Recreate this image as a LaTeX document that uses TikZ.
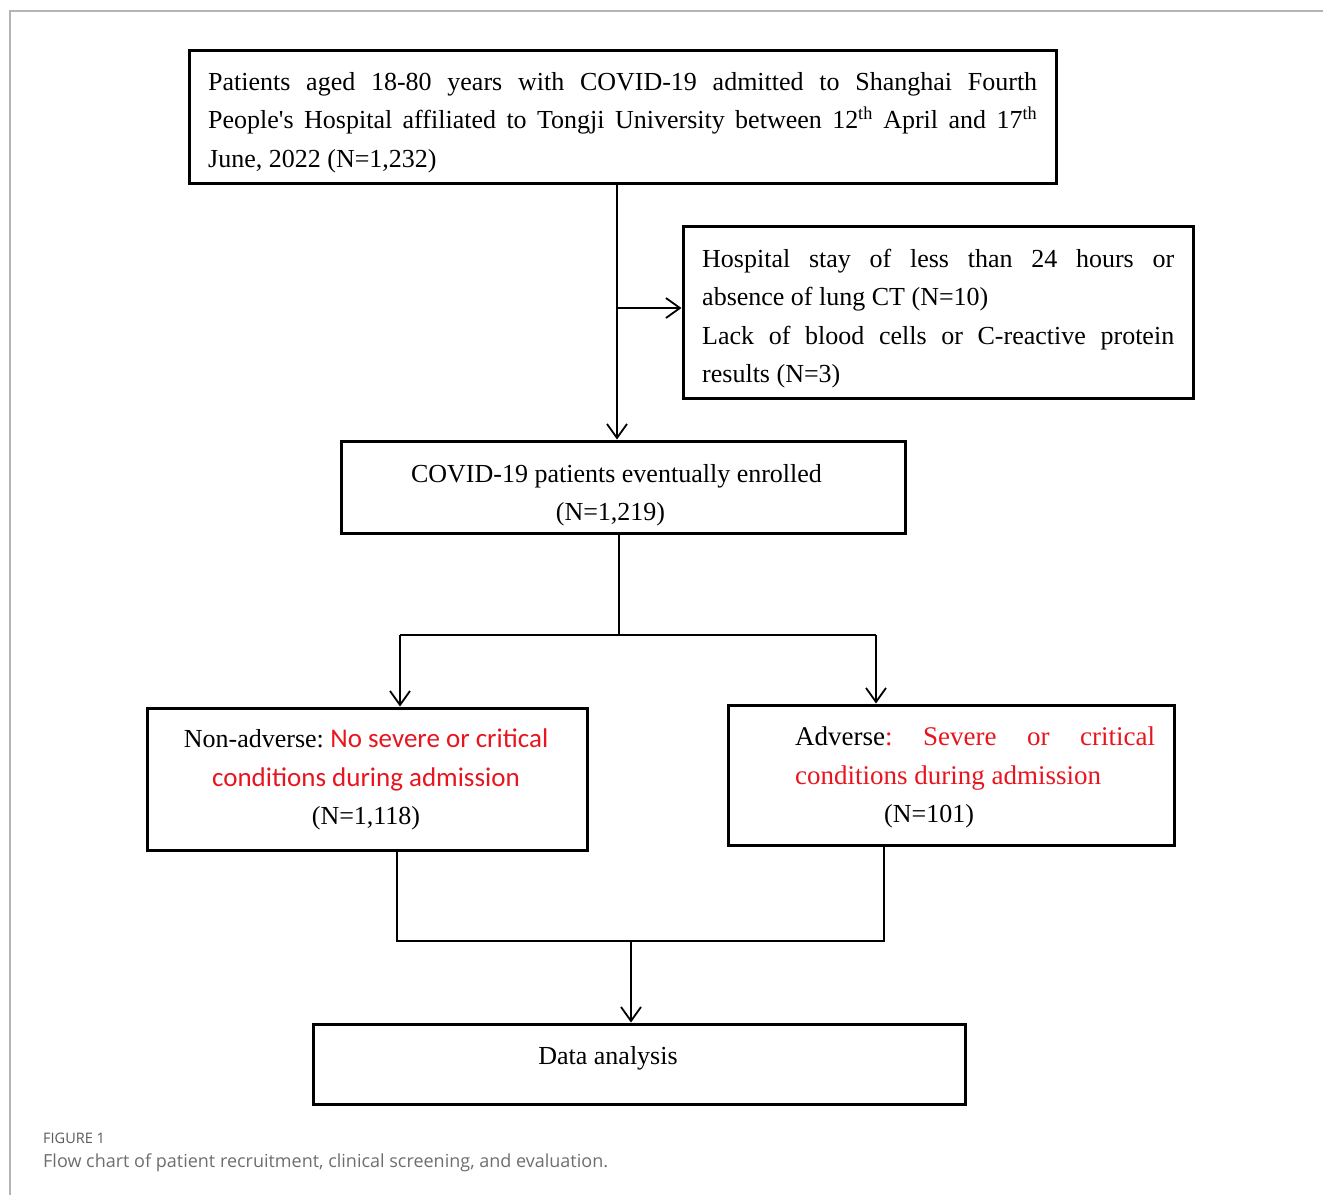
\documentclass[tikz,border=0pt]{standalone}
\usepackage{fontspec}
\setmainfont{Liberation Serif}
\newfontfamily\calib{Carlito}
\newfontfamily\capfont{Open Sans}
\usetikzlibrary{arrows.meta}
\definecolor{frame}{HTML}{B4B4B4}
\definecolor{capgray}{HTML}{6E6E6E}
\definecolor{capdark}{HTML}{5A5A5A}
\definecolor{redtxt}{HTML}{E8141E}
\tikzset{
  box/.style={draw=black, line width=3pt, inner sep=0pt},
  conn/.style={draw=black, line width=1.8pt},
  arr/.style={conn, -{Straight Barb[length=14pt,width=20pt,line width=1.8pt]}},
  txt/.style={inner sep=0pt, font=\frenchspacing\fontsize{26}{38.5}\selectfont},
  bigtxt/.style={inner sep=0pt, font=\frenchspacing\fontsize{27}{38.5}\selectfont},
  rtxt/.style={inner sep=0pt, text=redtxt, font=\fontsize{27}{38.5}\selectfont\calib},
}
\begin{document}
\begin{tikzpicture}[x=1pt, y=-1pt]
\useasboundingbox (0,0) rectangle (1323,1195);
% outer frame (top and left)
\draw[frame, line width=1.5pt] (1323,11) -- (10,11) -- (10,1195);

% boxes
\node[box, minimum width=867pt, minimum height=133pt] (top) at (622.5,116.5) {};
\node[box, minimum width=510pt, minimum height=172pt] (excl) at (938,312) {};
\node[box, minimum width=564pt, minimum height=92pt] (enr) at (623,487) {};
\node[box, minimum width=440pt, minimum height=142pt] (non) at (367,779) {};
\node[box, minimum width=446pt, minimum height=140pt] (adv) at (951,775) {};
\node[box, minimum width=652pt, minimum height=80pt] (data) at (639,1064) {};

% texts: top box
\node[txt, anchor=base west] (t1) at (208,90) {\makebox[829pt][s]{Patients aged 18-80 years with COVID-19 admitted to Shanghai Fourth}};
\node[txt, anchor=base west] (t2) at (208,128.5) {\makebox[829pt][s]{People\textquotesingle s Hospital affiliated to Tongji University between 12\textsuperscript{th} April and 17\textsuperscript{th}}};
\node[txt, anchor=base west] (t3) at (208,167) {June, 2022 (N=1,232)};

% exclusion box
\node[txt, anchor=base west] (e1) at (702,267) {\makebox[472pt][s]{Hospital stay of less than 24 hours or}};
\node[txt, anchor=base west] (e2) at (702,305.5) {absence of lung CT (N=10)};
\node[txt, anchor=base west] (e3) at (702,344) {\makebox[472pt][s]{Lack of blood cells or C-reactive protein}};
\node[txt, anchor=base west] (e4) at (702,382.5) {results (N=3)};

% enrolled
\node[txt, anchor=base] (n1) at (616.5,482) {COVID-19 patients eventually enrolled};
\node[txt, anchor=base] (n2) at (610.5,520) {(N=1,219)};

% non-adverse
\node[txt, anchor=base] (a1) at (366,747) {Non-adverse: {\calib\fontsize{27}{38.5}\selectfont\color{redtxt}No severe or critical}};
\node[rtxt, anchor=base] (a2) at (366,786) {conditions during admission};
\node[txt, anchor=base] (a3) at (366,824) {(N=1,118)};

% adverse
\node[bigtxt, anchor=base west] (b1) at (795,745) {\makebox[360pt][s]{Adverse\textcolor{redtxt}{: Severe or critical}}};
\node[bigtxt, anchor=base west, text=redtxt] (b2) at (795,784) {conditions during admission};
\node[txt, anchor=base west] (b3) at (884,822) {(N=101)};

% data analysis
\node[txt, anchor=base] (d1) at (608,1064) {Data analysis};

% caption
\node[inner sep=0pt, anchor=base west, text=capdark, font=\fontsize{14.5}{16}\capfont] (cap1) at (43,1143) {FIGURE 1};
\node[inner sep=0pt, anchor=base west, text=capgray, font=\fontsize{18}{20}\capfont] (cap2) at (43,1167) {Flow chart of patient recruitment, clinical screening, and evaluation.};

% junction coordinates
\coordinate (j1) at (617,308);
\coordinate (j2) at (619,635);
\coordinate (jl) at (400,635);
\coordinate (jr) at (876,635);
\coordinate (jb) at (631,941);
\coordinate (jbl) at (397,941);
\coordinate (jbr) at (884,941);

% connectors
\draw[arr] (top.south -| j1) -- (enr.north -| j1);
\draw[arr] (j1) -- (excl.west |- j1);
\draw[conn] (enr.south -| j2) -- (j2);
\draw[conn] (jl) -- (jr);
\draw[arr] (jl) -- (non.north -| jl);
\draw[arr] (jr) -- (adv.north -| jr);
\draw[conn] (non.south -| jbl) -- (jbl) -- (jbr) -- (adv.south -| jbr);
\draw[arr] (jb) -- (data.north -| jb);
\end{tikzpicture}
\end{document}
